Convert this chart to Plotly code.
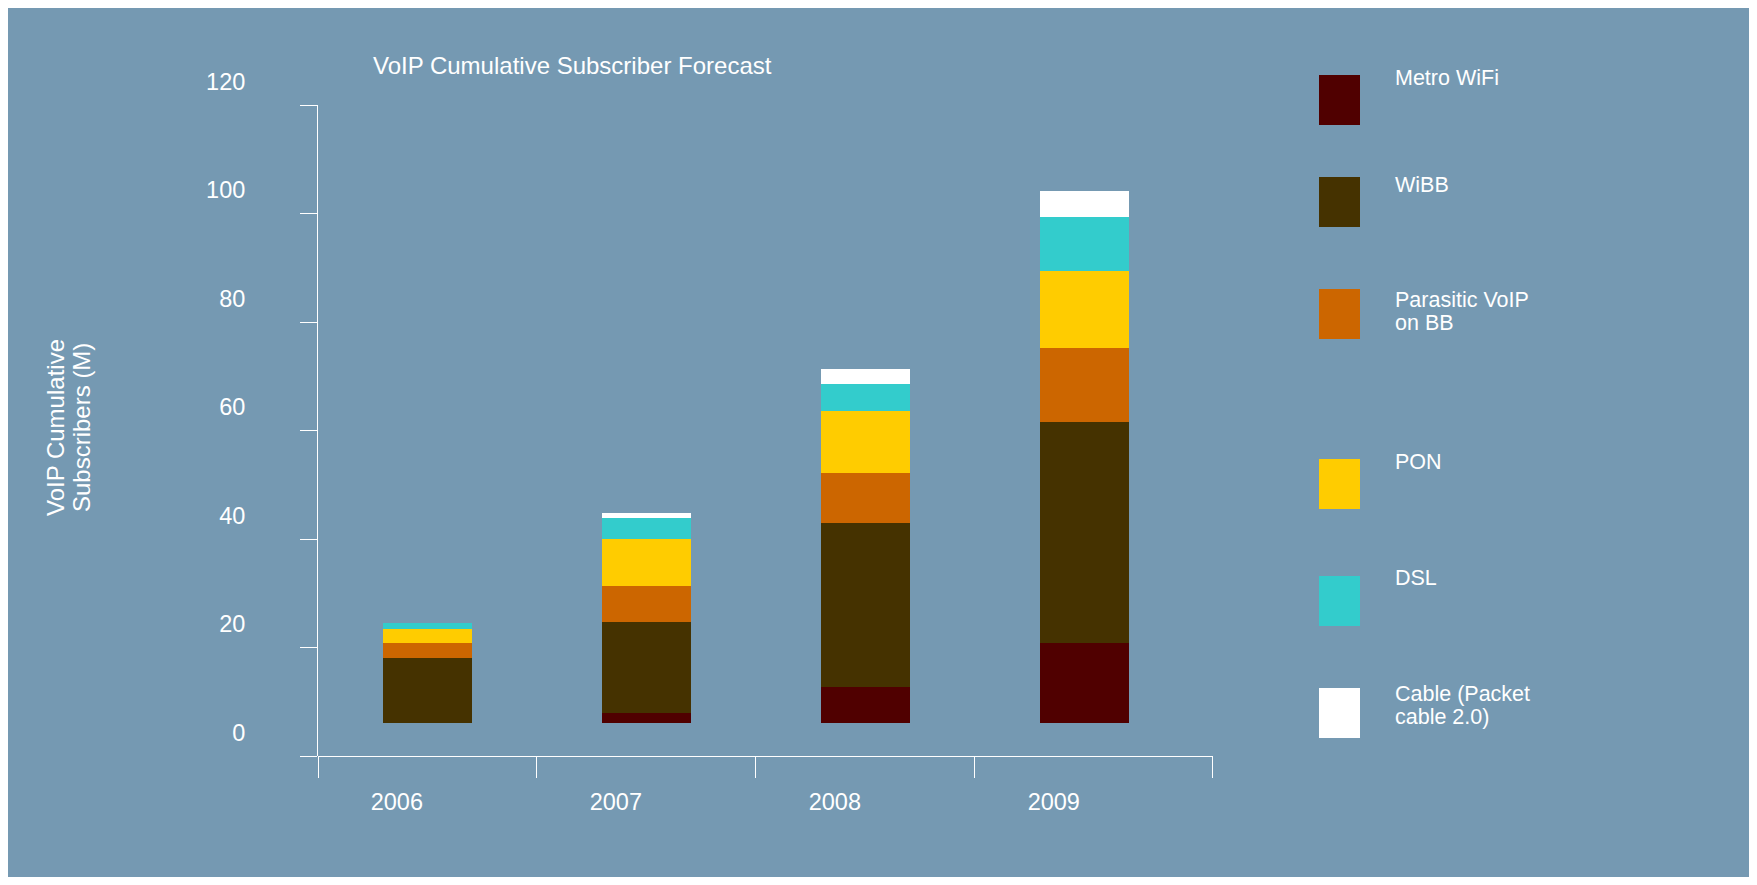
import numpy as np
import plotly.graph_objects as go

# ---------------- data ----------------
years = ["2006", "2007", "2008", "2009"]
series_names = ["Metro WiFi", "WiBB", "Parasitic VoIP\non BB", "PON", "DSL", "Cable (Packet\ncable 2.0)"]
metro_wifi = [0.0, 1.9, 6.6, 14.8]
wibb = [12.0, 16.8, 30.3, 40.6]
parasitic = [2.8, 6.6, 9.2, 13.8]
pon = [2.5, 8.7, 11.5, 14.2]
dsl = [1.1, 3.7, 4.9, 9.8]
cable = [0.0, 1.1, 2.8, 4.9]
y_ticks = [0, 20, 40, 60, 80, 100, 120]

# ---------------- style / layout ----------------
colors = ["#500000", "#453200", "#CC6600", "#FFCC00", "#33CCCC", "#FFFFFF"]
BG = "#7599B2"
FONT = "Liberation Sans, Arial, sans-serif"
OFF = 8                      # page body margin
W_FIG, H_FIG = 1757 - 2 * OFF, 885 - 2 * OFF
# plot area in screen pixels (top extended so the "120" label fits)
SL, SR, ST, SB = 318, 1213, 60, 756
AXIS_TOP = 105               # screen pixel of the 120 tick / top of axis line
L, R, T, B = SL - OFF, SR - OFF, ST - OFF, SB - OFF
H_PLOT = B - T

def px2x(px):
    return (px - OFF - L) / (R - L)

def py2y(py):
    return (B - (py - OFF)) / (B - T)

series_values = [metro_wifi, wibb, parasitic, pon, dsl, cable]
xpos = np.arange(len(years))

fig = go.Figure()
for name, vals, col in zip(series_names, series_values, colors):
    fig.add_trace(go.Bar(
        x=xpos, y=vals, name=name.replace("\n", " "), width=0.406,
        marker=dict(color=col, line=dict(width=0)), showlegend=False,
        hoverinfo="name+y",
    ))

# helper (non-drawing) traces so the auxiliary axes are rendered
fig.add_trace(go.Scatter(x=xpos, y=wibb, mode="none", xaxis="x2", yaxis="y",
                         showlegend=False, hoverinfo="skip"))
fig.add_trace(go.Scatter(x=xpos, y=wibb, mode="none", xaxis="x", yaxis="y2",
                         showlegend=False, hoverinfo="skip"))
fig.add_trace(go.Scatter(x=xpos, y=wibb, mode="none", xaxis="x", yaxis="y3",
                         showlegend=False, hoverinfo="skip"))

# legend (manual, screen pixel positions)
legend_sq_top = [75, 177, 289, 459, 576, 688]
legend_text_centers = [[78.5], [185], [300, 323], [461.5], [578], [694, 717]]
shapes = []
annotations = []
for name, col, top, centers in zip(series_names, colors, legend_sq_top, legend_text_centers):
    shapes.append(dict(type="rect", xref="paper", yref="paper",
                       x0=px2x(1319), x1=px2x(1360), y0=py2y(top + 50), y1=py2y(top),
                       fillcolor=col, line=dict(width=0)))
    for line, cy in zip(name.split("\n"), centers):
        annotations.append(dict(text=line, xref="paper", yref="paper", showarrow=False,
                                x=px2x(1393), y=py2y(cy), xanchor="left", yanchor="middle",
                                font=dict(family=FONT, size=21.5, color="white")))

# title
annotations.append(dict(text="VoIP Cumulative Subscriber Forecast", xref="paper", yref="paper",
                        showarrow=False, x=px2x(371), y=py2y(65), xanchor="left", yanchor="middle",
                        font=dict(family=FONT, size=24, color="white")))
# y-axis title (two lines)
for line, cx in zip(["VoIP Cumulative", "Subscribers (M)"], [55, 81]):
    annotations.append(dict(text=line, xref="paper", yref="paper", showarrow=False,
                            x=px2x(cx), y=py2y(428), xanchor="center", yanchor="middle",
                            textangle=-90, font=dict(family=FONT, size=24, color="white")))

px_per_unit = (SB - AXIS_TOP) / 120.0
bar_base_px = 723 - OFF
label_shift = 23.5

fig.update_layout(
    width=W_FIG, height=H_FIG, autosize=False,
    margin=dict(l=L, r=W_FIG - R, t=T, b=H_FIG - B, pad=0),
    paper_bgcolor=BG, plot_bgcolor="rgba(0,0,0,0)",
    barmode="stack", bargap=0,
    shapes=shapes, annotations=annotations,
    xaxis=dict(range=[-0.5, 3.587], showline=True, linecolor="white", linewidth=1,
               ticks="outside", ticklen=21, tickcolor="white", tickwidth=1,
               tickvals=[-0.5, 0.5, 1.5, 2.5, 3.585], showticklabels=False,
               showgrid=False, zeroline=False, fixedrange=True),
    xaxis2=dict(overlaying="x", anchor="y", side="bottom", range=[-0.36, 3.727],
                tickvals=list(xpos), ticktext=years, ticks="outside", ticklen=25,
                tickcolor="rgba(0,0,0,0)", showline=False, showgrid=False, zeroline=False,
                tickfont=dict(family=FONT, size=23.5, color="white"), fixedrange=True),
    yaxis=dict(range=[-(B - bar_base_px) / px_per_unit, (bar_base_px - T) / px_per_unit],
               visible=False, showgrid=False, zeroline=False, fixedrange=True),
    yaxis2=dict(anchor="x", side="left", domain=[0, (SB - AXIS_TOP) / H_PLOT],
                range=[0, 120], tickvals=y_ticks,
                ticks="outside", ticklen=17, tickcolor="white", showline=True, linecolor="white",
                showticklabels=False, showgrid=False, zeroline=False, fixedrange=True),
    yaxis3=dict(overlaying="y", anchor="x", side="left",
                range=[-label_shift / px_per_unit, H_PLOT / px_per_unit - label_shift / px_per_unit],
                tickvals=y_ticks, ticks="outside", ticklen=67, tickcolor="rgba(0,0,0,0)",
                showline=False, showgrid=False, zeroline=False,
                tickfont=dict(family=FONT, size=23.5, color="white"), fixedrange=True),
)

fig.write_html("out.html")
